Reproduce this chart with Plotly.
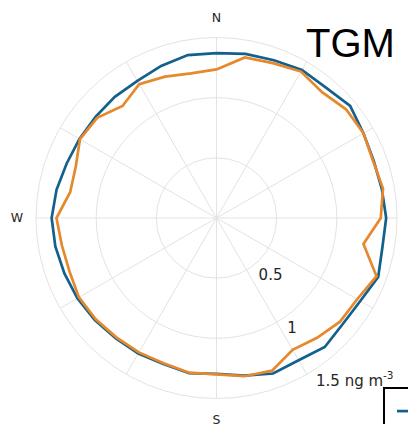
import plotly.graph_objects as go

directions = [0, 10, 20, 30, 40, 50, 60, 70, 80, 90, 100, 110, 120, 130, 140, 150, 160, 170,
              180, 190, 200, 210, 220, 230, 240, 250, 260, 270, 280, 290, 300, 310, 320, 330, 340, 350]
series_blue = [1.37, 1.385, 1.395, 1.42, 1.415, 1.45, 1.41, 1.39, 1.395, 1.41, 1.40, 1.43,
               1.38, 1.37, 1.40, 1.365, 1.375, 1.33, 1.295, 1.31, 1.29, 1.30, 1.305, 1.32,
               1.335, 1.345, 1.36, 1.37, 1.35, 1.325, 1.315, 1.31, 1.315, 1.315, 1.345, 1.375]
series_orange = [1.235, 1.355, 1.37, 1.405, 1.365, 1.405, 1.41, 1.385, 1.405, 1.365, 1.24, 1.415,
                 1.35, 1.34, 1.30, 1.265, 1.35, 1.335, 1.30, 1.305, 1.285, 1.29, 1.295, 1.31,
                 1.32, 1.30, 1.305, 1.33, 1.235, 1.245, 1.31, 1.295, 1.215, 1.285, 1.25, 1.22]
names = ["Observed", "Modelled"]
radial_ticks = [0.5, 1, 1.5]
radial_labels = ["0.5", "1", "1.5 ng m<sup>-3</sup>"]
angle_ticks = list(range(0, 360, 30))
angle_labels = ["N", "", "", "E", "", "", "S", "", "", "W", "", ""]

BLUE = "#12608c"
ORANGE = "#e6882c"
GRID = "#e3e3e3"

# polar area geometry (pixels)
W, H = 408, 424
CX, CY, R = 216.5, 218.0, 180.5
RMAX = 1.5
LABEL_PAD = 0.065  # outward offset of radial tick labels, in data units
R2 = R * (RMAX + LABEL_PAD) / RMAX

fig = go.Figure()
for vals, name, col in [(series_blue, names[0], BLUE), (series_orange, names[1], ORANGE)]:
    fig.add_trace(go.Scatterpolar(
        r=vals + vals[:1], theta=directions + directions[:1], mode="lines",
        name=name, line=dict(color=col, width=2.7)))
# empty trace that carries the radial tick labels
fig.add_trace(go.Scatterpolar(r=[], theta=[], subplot="polar2", showlegend=False,
                              hoverinfo="skip", mode="lines"))

fig.update_layout(
    width=W, height=H,
    margin=dict(l=0, r=0, t=0, b=0, autoexpand=False),
    paper_bgcolor="white",
    font=dict(family="DejaVu Sans", color="#262626"),
    polar=dict(
        domain=dict(x=[(CX - R) / W, (CX + R) / W], y=[1 - (CY + R) / H, 1 - (CY - R) / H]),
        bgcolor="white",
        radialaxis=dict(range=[0, RMAX], tickmode="array", tickvals=radial_ticks,
                        showticklabels=False, showline=False, ticks="",
                        gridcolor=GRID, gridwidth=1),
        angularaxis=dict(direction="clockwise", rotation=90, tickmode="array",
                         tickvals=angle_ticks, ticktext=angle_labels,
                         showline=True, linecolor=GRID, linewidth=1,
                         gridcolor=GRID, gridwidth=1,
                         ticks="outside", ticklen=10, tickcolor="rgba(0,0,0,0)",
                         tickfont=dict(size=12.5, color="#262626")),
    ),
    polar2=dict(
        domain=dict(x=[(CX - R2) / W, (CX + R2) / W], y=[1 - (CY + R2) / H, 1 - (CY - R2) / H]),
        bgcolor="rgba(0,0,0,0)",
        radialaxis=dict(range=[-LABEL_PAD, RMAX], tickmode="array", tickvals=radial_ticks,
                        ticktext=radial_labels, showline=False, ticks="", showgrid=False,
                        angle=-61.5, tickangle=-61.5, side="counterclockwise",
                        tickfont=dict(size=15, color="#262626")),
        angularaxis=dict(visible=False, showgrid=False, showline=False),
    ),
    showlegend=True,
    legend=dict(x=383/408, y=1-387/424, xanchor="left", yanchor="top",
                bordercolor="black", borderwidth=2, bgcolor="white", indentation=7,
                font=dict(size=24, family="Liberation Sans", color="black")),
    annotations=[dict(text="TGM", x=350/408, y=1-43/424, xref="paper", yref="paper",
                      showarrow=False, xanchor="center", yanchor="middle",
                      font=dict(family="Liberation Sans", size=40, color="black"))],
)

fig.write_html("out.html")
